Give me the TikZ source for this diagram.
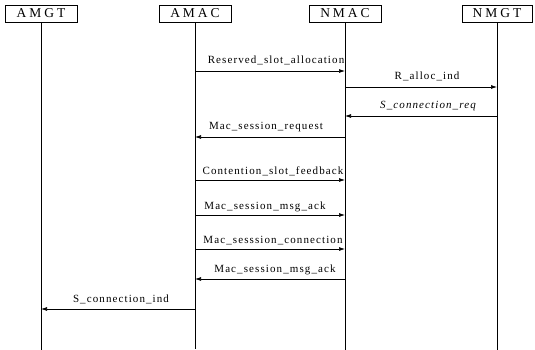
\documentclass[tikz,border=0pt]{standalone}
\usepackage{fontspec}
\setmainfont{Liberation Serif}
\newfontfamily\labf[LetterSpace=10]{Liberation Serif}
\newfontfamily\boxf[LetterSpace=22]{Liberation Serif}
\usetikzlibrary{arrows.meta}
\begin{document}
\begin{tikzpicture}[x=1pt,y=-1pt,
  ent/.style={draw,line width=0.8pt,minimum width=72pt,minimum height=17pt,inner sep=0pt,font=\boxf\fontsize{13.5}{13.5}\selectfont},
  life/.style={line width=0.7pt},
  msg/.style={line width=0.7pt,-{Latex[length=6pt,width=4pt]}},
  lab/.style={font=\labf\fontsize{11}{11}\selectfont,inner sep=0pt,anchor=base}]
\useasboundingbox (0,0) rectangle (535,350);
\node[ent] (amgt) at (41,13.5) {AMGT};
\node[ent] (amac) at (195,13.5) {AMAC};
\node[ent] (nmac) at (345,13.5) {NMAC};
\node[ent,minimum width=70pt] (nmgt) at (497,13.5) {NMGT};
\coordinate (amgtE) at (41,350);
\coordinate (amacE) at (195,349);
\coordinate (nmacE) at (345,350);
\coordinate (nmgtE) at (497,350);
\draw[life] (amgt.south) -- (amgtE);
\draw[life] (amac.south) -- (amacE);
\draw[life] (nmac.south) -- (nmacE);
\draw[life] (nmgt.south) -- (nmgtE);
% message endpoints
\foreach \n/\y in {1/71,4/137,5/180,6/215,7/249,8/279,9/309}{
  \coordinate (c\n) at (195,\y);
  \coordinate (d\n) at (345,\y);
}
\coordinate (e2) at (345,87); \coordinate (f2) at (497,87);
\coordinate (e3) at (345,116); \coordinate (f3) at (497,116);
\coordinate (g9) at (41,309);
\draw[msg] (c1) -- (d1);
\draw[msg] (e2) -- (f2);
\draw[msg] (f3) -- (e3);
\draw[msg] (d4) -- (c4);
\draw[msg] (c5) -- (d5);
\draw[msg] (c6) -- (d6);
\draw[msg] (c7) -- (d7);
\draw[msg] (d8) -- (c8);
\draw[msg] (c9) -- (g9);
\node[lab] (l1) at (276,64) {Reserved\_slot\_allocation};
\node[lab] (l2) at (427,80) {R\_alloc\_ind};
\node[lab] (l3) at (428,109) {\itshape S\_connection\_req};
\node[lab] (l4) at (266,129) {Mac\_session\_request};
\node[lab] (l5) at (273,174) {Contention\_slot\_feedback};
\node[lab] (l6) at (265,209) {Mac\_session\_msg\_ack};
\node[lab] (l7) at (273,243) {Mac\_sesssion\_connection};
\node[lab] (l8) at (275,272) {Mac\_session\_msg\_ack};
\node[lab] (l9) at (121,302) {S\_connection\_ind};
\end{tikzpicture}
\end{document}
